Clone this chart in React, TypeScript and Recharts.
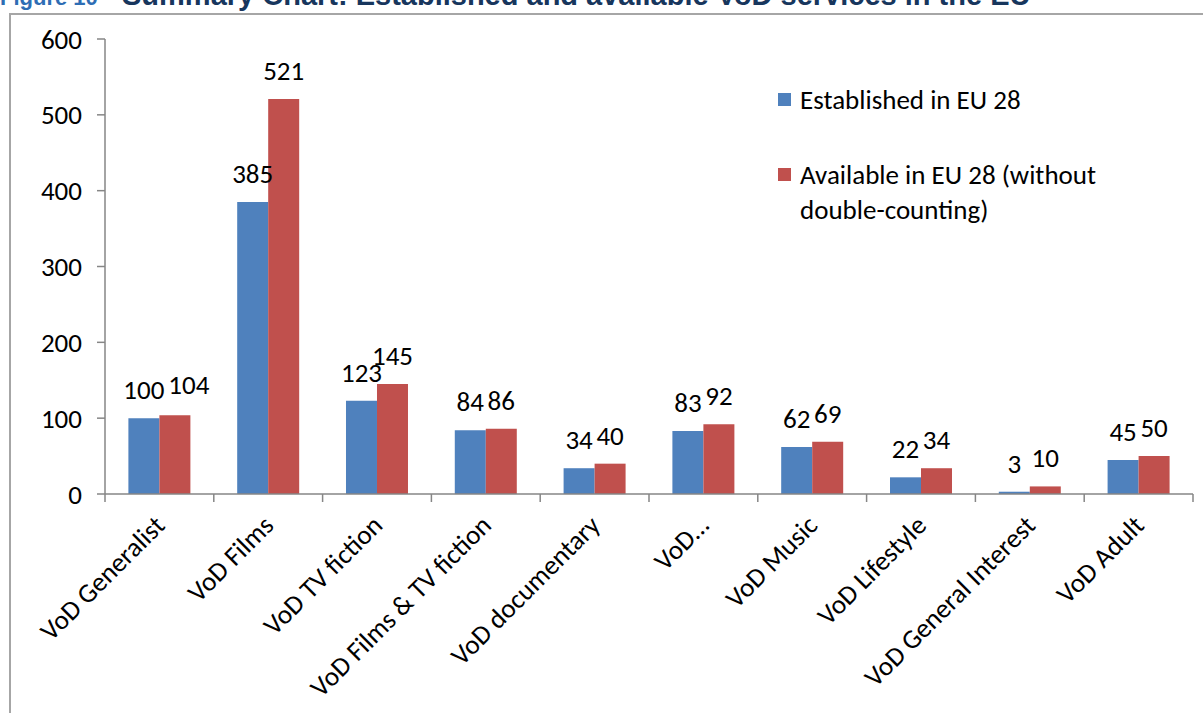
import { BarChart, Bar, XAxis, YAxis, LabelList } from 'recharts';

// VoD services by genre: established in EU 28 vs available in EU 28.
const categories = [
  'VoD Generalist',
  'VoD Films',
  'VoD TV fiction',
  'VoD Films & TV fiction',
  'VoD documentary',
  'VoD…',
  'VoD Music',
  'VoD Lifestyle',
  'VoD General Interest',
  'VoD Adult',
];
const established = [100, 385, 123, 84, 34, 83, 62, 22, 3, 45];
const available = [104, 521, 145, 86, 40, 92, 69, 34, 10, 50];
const yTicks = [0, 100, 200, 300, 400, 500, 600];

const seriesNames = ['Established in EU 28', 'Available in EU 28 (without double-counting)'];
const BLUE = '#4F81BD';
const RED = '#C0504D';
const AXIS = '#868686';
const FONT = 'Carlito, Lato, "Open Sans", sans-serif';
const FS = 27;

const W = 1203;
const H = 713;
const PLOT_LEFT = 105;
const PLOT_RIGHT = 1193;
const BAND = (PLOT_RIGHT - PLOT_LEFT) / categories.length;

const rows = categories.map((name, i) => ({ name, est: established[i], avail: available[i] }));

// Excel-style category axis: tick marks sit between categories, labels at -45°.
function CategoryTick(props: { x?: number; y?: number; index?: number; payload?: { value: string } }) {
  const { x = 0, y = 0, index = 0, payload } = props;
  const top = y - 8;
  const ax = x + 7;
  const ay = y + 25;
  return (
    <g>
      <line x1={x - BAND / 2} x2={x - BAND / 2} y1={top} y2={y} stroke={AXIS} strokeWidth={1.5} />
      {index === categories.length - 1 && (
        <line x1={x + BAND / 2} x2={x + BAND / 2} y1={top} y2={y} stroke={AXIS} strokeWidth={1.5} />
      )}
      <text x={ax} y={ay} transform={`rotate(-45, ${ax}, ${ay})`} textAnchor="end" fill="#000" fontSize={FS} fontFamily={FONT}>
        {payload?.value}
      </text>
    </g>
  );
}

// Value label for the "available" bar; nudged right when it would collide
// with its neighbour's three-digit label at nearly the same height.
function AvailLabel(props: { x?: number; y?: number; width?: number; index?: number; value?: number }) {
  const { x = 0, y = 0, width = 0, index = 0, value = 0 } = props;
  const est = established[index];
  const crowded = value >= 100 && est >= 100 && value - est < 10;
  return (
    <text x={x + width / 2 + (crowded ? 14 : 0)} y={y - 19 - (crowded ? 2 : 0)} textAnchor="middle" fill="#000" fontSize={FS} fontFamily={FONT}>
      {value}
    </text>
  );
}

function LegendBox() {
  const colors = [BLUE, RED];
  return (
    <div style={{ position: 'absolute', left: 778, top: 82, width: 340, fontFamily: FONT, fontSize: FS, color: '#000' }}>
      {seriesNames.map((n, i) => (
        <div key={n} style={{ display: 'flex', alignItems: 'flex-start', marginBottom: i === 0 ? 40 : 0, lineHeight: '35px' }}>
          <span style={{ width: 13, height: 13, background: colors[i], marginTop: 11, marginRight: 9, flexShrink: 0 }} />
          <span>{n}</span>
        </div>
      ))}
    </div>
  );
}

export default function App() {
  const titleFont = '"Liberation Sans Narrow", "Liberation Sans", Arial, sans-serif';
  return (
    <div style={{ position: 'absolute', left: 0, top: 0, width: W, height: H, overflow: 'hidden', background: '#fff' }}>
      <div style={{ position: 'absolute', left: 0, top: -15, whiteSpace: 'nowrap', fontFamily: titleFont, fontWeight: 700, color: '#2E6DB4', fontSize: 22 }}>
        Figure 10
      </div>
      <div style={{ position: 'absolute', left: 122, top: -21, whiteSpace: 'nowrap', fontFamily: titleFont, fontWeight: 700, color: '#17365D', fontSize: 29 }}>
        Summary Chart: Established and available VoD services in the EU
      </div>
      <div style={{ position: 'absolute', left: 9, top: 13, width: W, height: H, borderLeft: '2px solid #A6A6A6', borderTop: '2px solid #A6A6A6' }} />
      <div style={{ position: 'absolute', left: 0, top: 0 }}>
        <BarChart width={W} height={H} data={rows} margin={{ top: 39, right: W - PLOT_RIGHT, bottom: 0, left: 0 }} barCategoryGap="21.5%" barGap={0}>
          <YAxis
            width={PLOT_LEFT}
            domain={[0, 600]}
            ticks={yTicks}
            stroke={AXIS}
            strokeWidth={1.5}
            tickSize={8}
            tickMargin={15}
            tick={{ fill: '#000', fontSize: FS, fontFamily: FONT }}
            interval={0}
          />
          <XAxis
            dataKey="name"
            height={H - 494}
            stroke={AXIS}
            strokeWidth={1.5}
            tickLine={false}
            tickSize={8}
            tickMargin={0}
            interval={0}
            tick={<CategoryTick />}
          />
          <Bar dataKey="est" name={seriesNames[0]} fill={BLUE} isAnimationActive={false}>
            <LabelList dataKey="est" position="top" offset={19} fill="#000" fontSize={FS} fontFamily={FONT} />
          </Bar>
          <Bar dataKey="avail" name={seriesNames[1]} fill={RED} isAnimationActive={false}>
            <LabelList dataKey="avail" content={<AvailLabel />} />
          </Bar>
        </BarChart>
      </div>
      <LegendBox />
    </div>
  );
}
